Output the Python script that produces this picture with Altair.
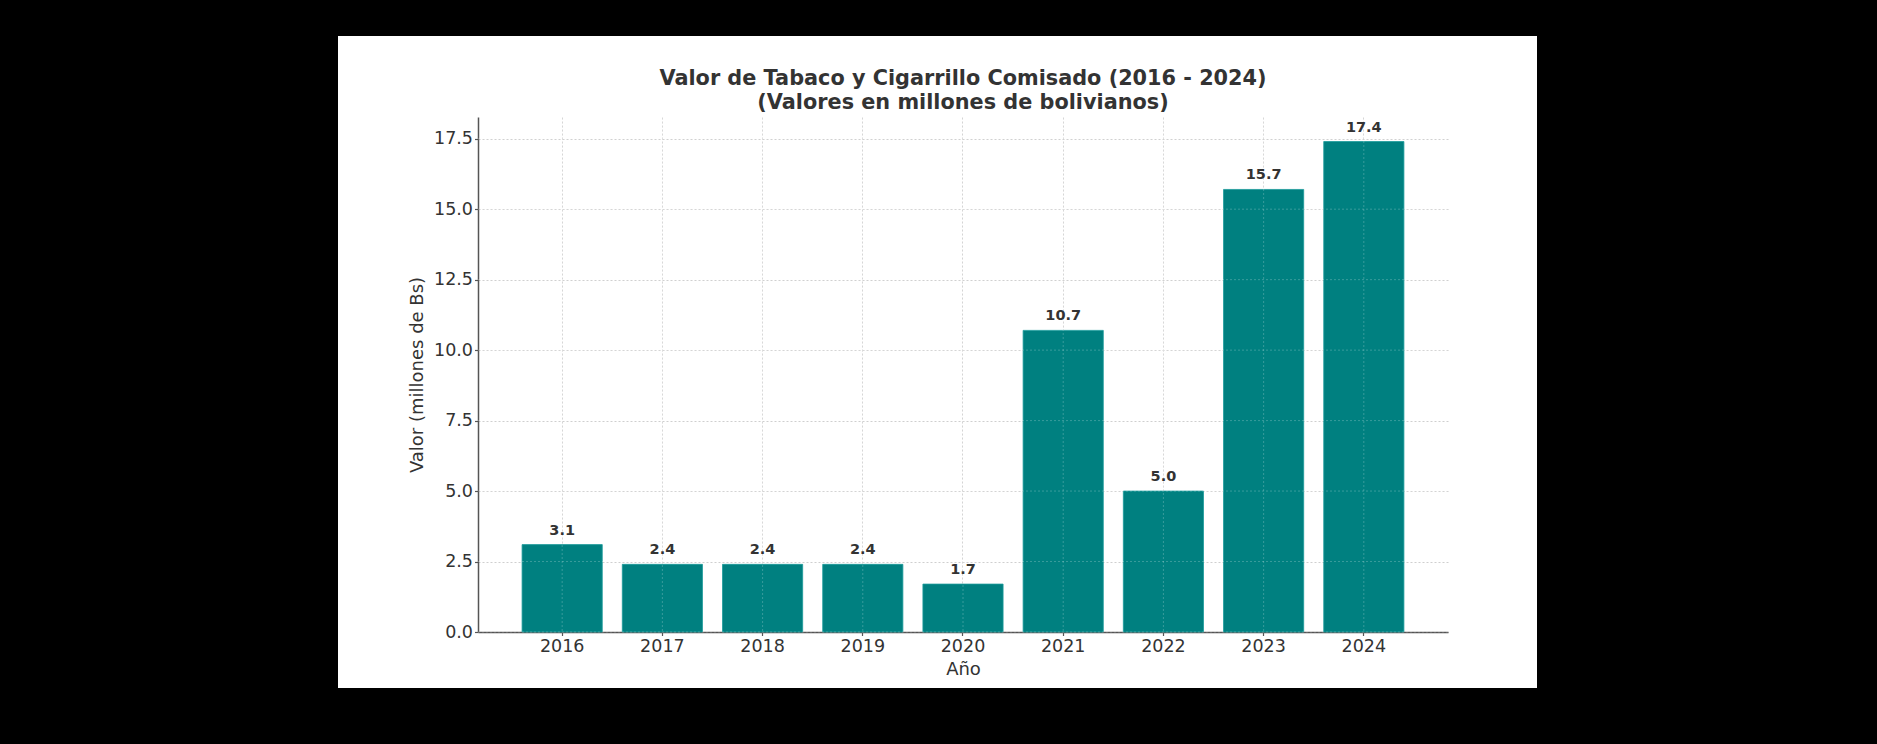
import altair as alt
import pandas as pd

# Valor de tabaco y cigarrillo comisado, millones de Bs
years = ["2016", "2017", "2018", "2019", "2020", "2021", "2022", "2023", "2024"]
values = [3.1, 2.4, 2.4, 2.4, 1.7, 10.7, 5.0, 15.7, 17.4]
y_ticks = [0.0, 2.5, 5.0, 7.5, 10.0, 12.5, 15.0, 17.5]
title_lines = [
    "Valor de Tabaco y Cigarrillo Comisado (2016 - 2024)",
    "(Valores en millones de bolivianos)",
]

df = pd.DataFrame({"Año": years, "Valor": values})
grid_y = pd.DataFrame({"Valor": y_ticks})
grid_x = pd.DataFrame({"Año": years})

FONT = "DejaVu Sans"
TEAL = "#008080"
W, H = 970, 515
PAD_L, PAD_T = 478, 117

x_enc = alt.X(
    "Año:N",
    sort=years,
    scale=alt.Scale(paddingInner=0.2, paddingOuter=0.44),
    axis=alt.Axis(
        title="Año",
        labelAngle=0,
        bandPosition=0.5,
        labelFontSize=17.5,
        titleFontSize=18,
        titleFontWeight="normal",
        labelPadding=2,
        titlePadding=5,
        tickSize=3.5,
    ),
)
y_enc = alt.Y(
    "Valor:Q",
    scale=alt.Scale(domain=[0, 18.27], nice=False, zero=True),
    axis=alt.Axis(
        title="Valor (millones de Bs)",
        values=y_ticks,
        format=".1f",
        labelFontSize=17.5,
        titleFontSize=18,
        titleFontWeight="normal",
        labelPadding=2,
        titlePadding=7,
        tickSize=3.5,
    ),
)

bars = alt.Chart(df).mark_bar(color=TEAL, stroke="#1a9a9a", strokeWidth=0.8).encode(
    x=x_enc, y=y_enc
)

# faint grid showing through the bars
over_y = alt.Chart(grid_y).mark_rule(
    color="white", opacity=0.22, strokeDash=[2, 2], strokeWidth=1
).encode(y=alt.Y("Valor:Q"))
over_x = alt.Chart(grid_x).mark_rule(
    color="white", opacity=0.22, strokeDash=[2, 2], strokeWidth=1
).encode(x=alt.X("Año:N", sort=years))

labels = alt.Chart(df).mark_text(
    font=FONT, fontSize=14.5, fontWeight="bold", color="#333333", baseline="alphabetic", dy=-10
).encode(
    x=alt.X("Año:N", sort=years),
    y="Valor:Q",
    text=alt.Text("Valor:Q", format=".1f"),
)

# two-line heading above the plot
title_marks = [
    alt.Chart(df.head(1)).mark_text(
        font=FONT, fontSize=20.8, fontWeight="bold", color="#333333", baseline="middle", align="center"
    ).encode(x=alt.value(W / 2), y=alt.value(yy), text=alt.value(line))
    for line, yy in zip(title_lines, [-38, -14])
]

# black surround outside the white figure panel (thick stroke, no fill)
S = 400
frame = alt.Chart(df.head(1)).mark_rect(
    fill="black", fillOpacity=0, stroke="black", strokeWidth=S
).encode(
    x=alt.value(338 - PAD_L - S / 2),
    x2=alt.value(1537 - PAD_L + S / 2),
    y=alt.value(36 - PAD_T - S / 2),
    y2=alt.value(688 - PAD_T + S / 2),
)

chart = (
    alt.layer(bars, over_y, over_x, labels, *title_marks, frame)
    .properties(
        width=W,
        height=H,
        autosize=alt.AutoSizeParams(type="none"),
        padding={"left": PAD_L, "top": PAD_T, "right": 1877 - PAD_L - W, "bottom": 744 - PAD_T - H},
        background="white",
    )
    .configure_view(stroke=None)
    .configure_axis(
        labelFont=FONT,
        titleFont=FONT,
        labelColor="#333333",
        titleColor="#333333",
        domainColor="#555555",
        domainWidth=1.5,
        tickColor="#555555",
        tickWidth=1.2,
        grid=True,
        gridColor="#cfcfcf",
        gridDash=[2, 2],
        gridWidth=1,
    )
)

chart.save("out.html", embed_options={"renderer": "svg", "actions": False})
